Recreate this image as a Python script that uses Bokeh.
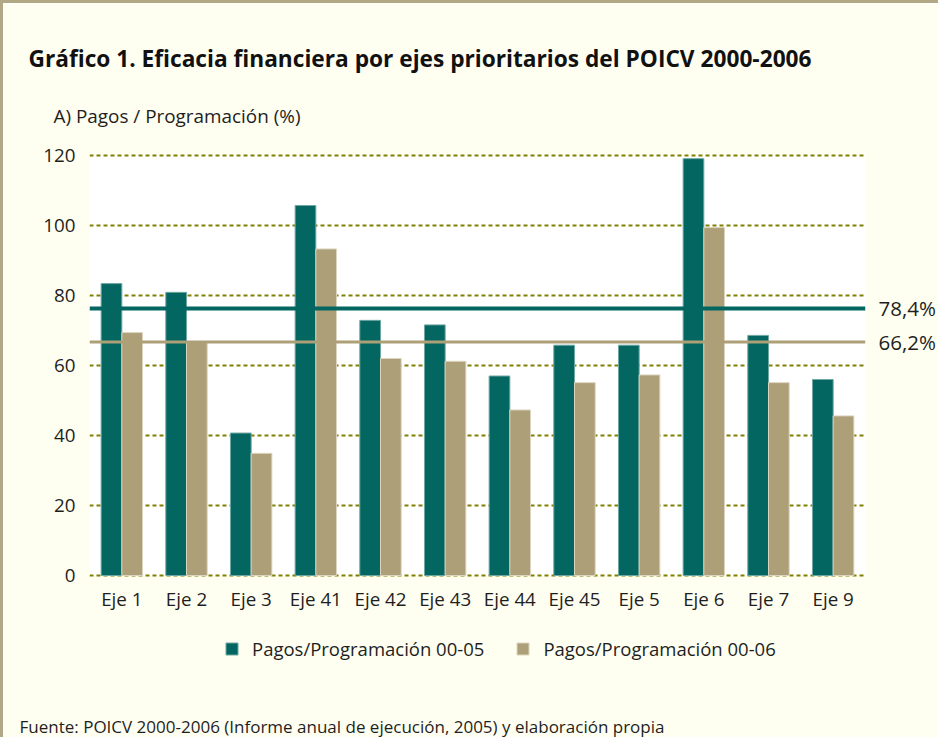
from bokeh.plotting import figure
from bokeh.models import (FactorRange, Span, Legend, LegendItem, FixedTicker, Title,
                          BoxAnnotation, ColumnDataSource, LinearAxis)
from bokeh.transform import dodge
from bokeh.embed import file_html
from bokeh.resources import INLINE

# ---- data ----
categories = ["Eje 1", "Eje 2", "Eje 3", "Eje 41", "Eje 42", "Eje 43", "Eje 44",
              "Eje 45", "Eje 5", "Eje 6", "Eje 7", "Eje 9"]
pagos_00_05 = [83.4, 80.9, 40.7, 105.7, 72.9, 71.6, 57.0, 65.8, 65.8, 119.1, 68.6, 56.0]
pagos_00_06 = [69.4, 66.7, 34.9, 93.3, 62.0, 61.2, 47.3, 55.1, 57.3, 99.4, 55.1, 45.6]
series_names = ["Pagos/Programación 00-05", "Pagos/Programación 00-06"]
mean_00_05 = 76.3
mean_00_06 = 66.7
mean_labels = ["78,4%", "66,2%"]
y_ticks = [0, 20, 40, 60, 80, 100, 120]

title_text = "Gráfico 1. Eficacia financiera por ejes prioritarios del POICV 2000-2006"
subtitle_text = "A) Pagos / Programación (%)"
source_text = "Fuente:  POICV 2000-2006 (Informe anual de ejecución, 2005) y elaboración propia"

TEAL = "#036660"
TAN = "#ad9f77"
CREAM = "#fffff1"
TXT = "#1e1e1e"
FONT = "Open Sans"

src = ColumnDataSource(dict(cat=categories, a=pagos_00_05, b=pagos_00_06))

# frame extends below the bars so that the legend can live inside it
p = figure(frame_width=776, frame_height=559,
           x_range=FactorRange(*categories, range_padding=0),
           y_range=(-39.14, 120.571), output_backend="svg", toolbar_location=None,
           min_border_left=86, min_border_right=69, min_border_top=150, min_border_bottom=0)
p.styles = {"border-top": "3px solid #b2a886", "border-left": "3px solid #b2a886"}
p.background_fill_color = CREAM
p.border_fill_color = CREAM
p.outline_line_color = None

# white plotting area between 0 and 120
p.add_layout(BoxAnnotation(bottom=y_ticks[0], top=y_ticks[-1], fill_color="white", fill_alpha=1,
                           line_color=None, level="image"))

r1 = p.vbar(x=dodge("cat", -0.16, range=p.x_range), top="a", width=0.32, source=src,
            fill_color=TEAL, line_color="#6fa7a3", line_width=1)
r2 = p.vbar(x=dodge("cat", 0.16, range=p.x_range), top="b", width=0.32, source=src,
            fill_color=TAN, line_color="#dcd4bf", line_width=1)

p.xgrid.grid_line_color = None
p.ygrid.grid_line_color = "#808000"
p.ygrid.grid_line_width = 2
p.ygrid.grid_line_dash = "4 3"
p.yaxis.ticker = FixedTicker(ticks=y_ticks)
p.xaxis.fixed_location = 0

right_axis = LinearAxis(ticker=FixedTicker(ticks=[mean_00_05, mean_00_06]),
                        major_label_overrides={mean_00_05: mean_labels[0],
                                               mean_00_06: mean_labels[1]})
p.add_layout(right_axis, "right")

for ax in (p.xaxis[0], p.yaxis[0], right_axis):
    ax.axis_line_color = None
    ax.major_tick_line_color = None
    ax.minor_tick_line_color = None
    ax.major_tick_out = 0
    ax.major_tick_in = 0
    ax.major_label_text_font = FONT
    ax.major_label_text_font_size = "18.8px"
    ax.major_label_text_color = TXT
right_axis.major_label_text_font_size = "20.5px"
right_axis.major_label_standoff = 13
p.yaxis[0].major_label_standoff = 14
p.xaxis.major_label_standoff = 10

p.add_layout(Span(location=mean_00_05, dimension="width", line_color=TEAL, line_width=4))
p.add_layout(Span(location=mean_00_06, dimension="width", line_color=TAN, line_width=3))

# subtitle (innermost above panel)
p.add_layout(Title(text=subtitle_text, align="left", offset=-36, standoff=49,
                   text_font=FONT, text_font_style="normal", text_font_size="18.9px",
                   text_color=TXT), "above")

# title (outermost)
p.title.text = title_text
p.title.align = "left"
p.title.offset = -61
p.title.standoff = 5
p.title.text_font = FONT
p.title.text_font_style = "bold"
p.title.text_font_size = "22.7px"
p.title.text_color = "#111111"

legend = Legend(items=[LegendItem(label=series_names[0], renderers=[r1]),
                       LegendItem(label=series_names[1], renderers=[r2])],
                orientation="horizontal", location=(135, 51),
                glyph_width=15, glyph_height=15, label_standoff=13, spacing=31,
                padding=0, margin=0, border_line_color=None, background_fill_alpha=0,
                label_text_font=FONT, label_text_font_size="18.5px", label_text_color=TXT)
p.add_layout(legend, "center")

p.add_layout(Title(text=source_text, align="left", offset=-70, standoff=0,
                   text_font=FONT, text_font_style="normal", text_font_size="17px",
                   text_color=TXT), "below")

open("out.html", "w").write(file_html(p, INLINE))
